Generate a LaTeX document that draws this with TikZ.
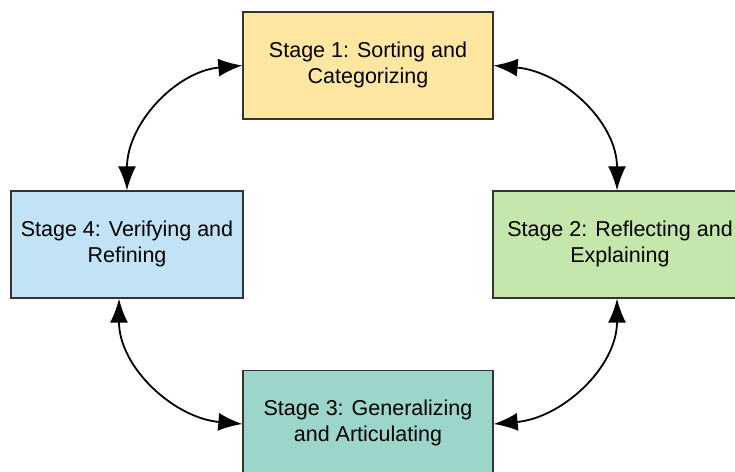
\documentclass[tikz,border=0pt]{standalone}
\usepackage{fontspec}
\setmainfont{Liberation Sans}
\usetikzlibrary{arrows.meta,positioning}
\definecolor{stageyellow}{HTML}{FFE6A1}
\definecolor{stagegreen}{HTML}{C5E7AB}
\definecolor{stageteal}{HTML}{9CD6CA}
\definecolor{stageblue}{HTML}{C2E3F5}
\tikzset{
 stage/.style
  = {rectangle, draw=black!80, line width=1.3pt, minimum height=107pt,
     align=center, font=\fontsize{21.5}{26}\selectfont, inner sep=0pt},
 tip/.tip = {Latex[length=24pt,width=18pt]},
 link/.style
  = {draw, line width=1.8pt, {tip}-{tip}},
}
\begin{document}
\begin{tikzpicture}[x=1pt,y=-1pt]

\useasboundingbox (0,0) rectangle (735,471);

% Stages
\node[stage, fill=stageyellow, minimum width=250pt] (s1) at (368,65.5) {Stage 1: Sorting and\\Categorizing\rule[-6pt]{0pt}{0pt}};
\node[stage, fill=stagegreen, minimum width=254pt] (s2) at (620,244.5) {Stage 2: Reflecting and\\Explaining\rule[-6pt]{0pt}{0pt}};
\node[stage, fill=stageteal, minimum width=250pt] (s3) at (368,424) {Stage 3: Generalizing\\and Articulating\rule[-6pt]{0pt}{0pt}};
\node[stage, fill=stageblue, minimum width=232pt] (s4) at (127,244.5) {Stage 4: Verifying and\\Refining\rule[-6pt]{0pt}{0pt}};

% Links
\draw[link] (s1.west) to[out=185,in=90] (s4.north);
\draw[link] (s1.east) to[out=-5,in=90] ([xshift=-3pt]s2.north);
\draw[link] ([xshift=-3pt]s2.south) to[out=-90,in=5] (s3.east);
\draw[link] ([xshift=-8pt]s4.south) to[out=-90,in=175] (s3.west);

\end{tikzpicture}
\end{document}
